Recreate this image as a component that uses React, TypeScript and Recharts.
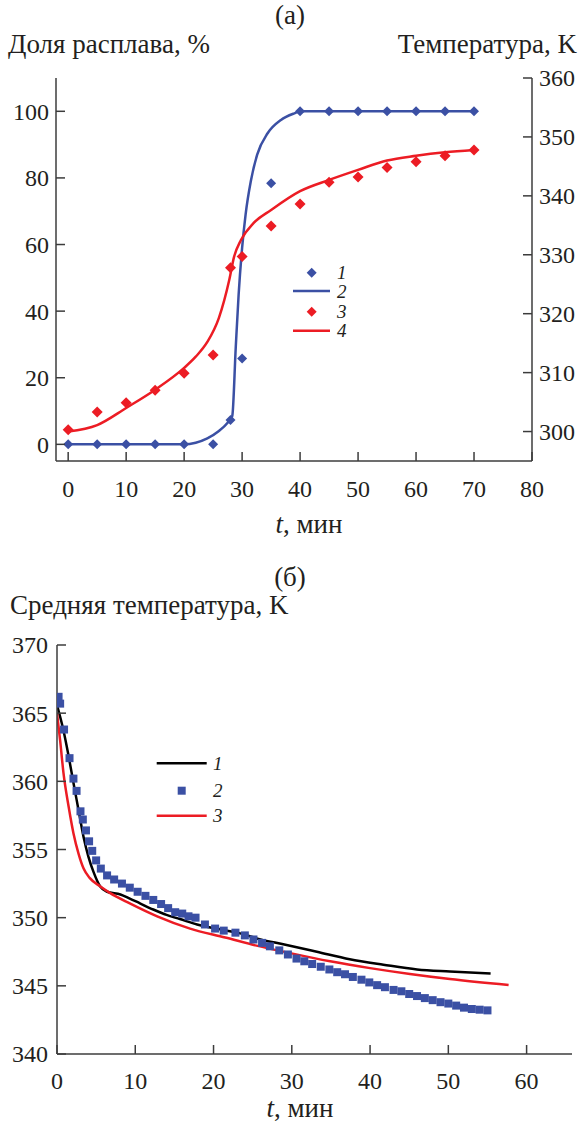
import { ComposedChart, Line, Scatter, XAxis, YAxis, Legend } from 'recharts';

const FONT = "'Times New Roman', 'Liberation Serif', Tinos, 'Noto Serif', 'DejaVu Serif', FreeSerif, serif";
const TEXT = '#231f20';
const AXIS = '#3c3c3c';
const BLUE = '#3b50a4';
const RED = '#ec1c24';

// (а) measured points, t in min
const timeA = [0, 5, 10, 15, 20, 25, 28, 30, 35, 40, 45, 50, 55, 60, 65, 70];
const meltMeasured = [0, 0, 0, 0, 0, 0, 7.3, 25.8, 78.4, 100, 100, 100, 100, 100, 100, 100];
const tempMeasured = [300.3, 303.3, 304.9, 307.0, 309.9, 313.0, 327.8, 329.7, 334.9, 338.6, 342.3, 343.2, 344.8, 345.8, 346.8, 347.8];

// (а) model curves
const meltModelTime = [0, 5, 10, 15, 20, 22, 24, 26, 27.5, 28.3, 28.9, 29.4, 30, 30.6, 31.5, 32.6, 34.4, 36.7, 39, 40, 45, 50, 55, 60, 65, 70];
const meltModel = [0, 0, 0, 0, 0, 0.5, 1.8, 4, 6.5, 8.5, 29, 45, 59, 69, 79, 87, 93.4, 97.4, 99.4, 100, 100, 100, 100, 100, 100, 100];
const tempModelTime = [0, 5, 10, 15, 20, 22, 24, 26, 27.8, 28.6, 29.8, 32, 35, 40, 45, 50, 55, 60, 65, 70];
const tempModel = [300, 301.1, 304.0, 307.1, 310.8, 312.7, 315.2, 319.3, 325.8, 329.6, 332.5, 335.4, 337.6, 340.8, 342.7, 344.4, 346.0, 346.8, 347.4, 347.8];

// (б) curve 1
const calcTime = [0, 0.8, 1.5, 2.1, 2.75, 3.4, 4.0, 4.7, 5.5, 6.4, 8.1, 9.3, 10.6, 12.3, 14.0, 15.7, 17.9, 20.8, 23.4, 26, 28.9, 33.2, 37.4, 41.7, 46, 50.2, 55.4];
const calcTemp = [365.6, 363.8, 361.8, 359.9, 357.9, 355.9, 354.5, 353.3, 352.3, 351.9, 351.7, 351.4, 351.05, 350.6, 350.2, 349.9, 349.5, 349.15, 348.85, 348.4, 348.05, 347.5, 346.95, 346.55, 346.2, 346.05, 345.9];

// (б) points 2
const measTime = [0.2, 0.4, 0.9, 1.6, 2.1, 2.5, 3.0, 3.3, 3.7, 4.1, 4.5, 5.0, 5.6, 6.4, 7.3, 8.3, 9.3, 10.3, 11.3, 12.3, 13.3, 14.2, 15.1, 16.0, 16.8, 17.7, 18.9, 20.2, 21.3, 22.8, 24.0, 25.1, 26.2, 27.2, 28.4, 29.5, 30.6, 31.6, 32.6, 33.7, 34.8, 35.8, 36.8, 37.8, 38.9, 39.9, 40.9, 41.9, 43.0, 44.0, 45.0, 46.0, 47.0, 48.0, 49.0, 50.0, 51.0, 52.0, 53.0, 54.0, 55.0];
const measTemp = [366.2, 365.7, 363.8, 361.7, 360.2, 359.3, 357.8, 357.2, 356.4, 355.6, 354.9, 354.2, 353.6, 353.1, 352.8, 352.5, 352.2, 351.9, 351.6, 351.3, 351.0, 350.7, 350.4, 350.3, 350.1, 350.0, 349.5, 349.2, 349.05, 348.9, 348.7, 348.4, 348.15, 347.9, 347.6, 347.3, 347.0, 346.8, 346.6, 346.4, 346.2, 346.0, 345.85, 345.65, 345.45, 345.25, 345.05, 344.9, 344.7, 344.6, 344.4, 344.25, 344.1, 343.95, 343.8, 343.7, 343.55, 343.4, 343.3, 343.25, 343.2];

// (б) curve 3
const modelTime = [0, 0.4, 0.83, 1.5, 2.1, 2.75, 3.4, 4.2, 5.5, 6.8, 9.3, 12.8, 17, 21.5, 25.5, 29.8, 34.9, 40, 45.1, 50.2, 57.7];
const modelTemp = [365.0, 363.0, 360.6, 358.1, 356.2, 354.7, 353.6, 352.9, 352.3, 351.8, 351.05, 350.1, 349.2, 348.55, 347.95, 347.4, 346.8, 346.3, 345.87, 345.5, 345.06];

const ticksA = [0, 10, 20, 30, 40, 50, 60, 70, 80];
const ticksMelt = [0, 20, 40, 60, 80, 100];
const ticksTemp = [300, 310, 320, 330, 340, 350, 360];
const ticksB = [0, 10, 20, 30, 40, 50, 60];
const ticksAvg = [340, 345, 350, 355, 360, 365, 370];

const zip = (xs: number[], ys: number[]) => xs.map((t, i) => ({ t, v: ys[i] }));

const tickText = { fontFamily: FONT, fontSize: 24 };

const makeTick = (side: 'left' | 'right' | 'bottom', gap: number) => (props: any) => {
  const { x, y, payload } = props;
  const len = 9;
  if (side === 'left') {
    return (
      <g>
        <line x1={x} y1={y} x2={x + len} y2={y} stroke={AXIS} strokeWidth={1.5} />
        <text x={x - gap} y={y} dy="0.35em" textAnchor="end" fill={TEXT} style={tickText}>{payload.value}</text>
      </g>
    );
  }
  if (side === 'right') {
    return (
      <g>
        <line x1={x} y1={y} x2={x - len} y2={y} stroke={AXIS} strokeWidth={1.5} />
        <text x={x + gap} y={y} dy="0.35em" textAnchor="start" fill={TEXT} style={tickText}>{payload.value}</text>
      </g>
    );
  }
  return (
    <g>
      <line x1={x} y1={y} x2={x} y2={y - len} stroke={AXIS} strokeWidth={1.5} />
      <text x={x} y={y + gap} textAnchor="middle" fill={TEXT} style={tickText}>{payload.value}</text>
    </g>
  );
};

const diamond = (r: number, color: string) => (p: any) => (
  <polygon
    points={`${p.cx},${p.cy - r} ${p.cx + r},${p.cy} ${p.cx},${p.cy + r} ${p.cx - r},${p.cy}`}
    fill={color}
  />
);

const square = (p: any) => <rect x={p.cx - 4} y={p.cy - 4} width={8} height={8} fill={BLUE} />;

const legendText = { fontFamily: FONT, fontSize: 19, fontStyle: 'italic' as const };

function LegendA() {
  return (
    <svg width={90} height={90}>
      <polygon points="26.7,7.7 31.7,12.7 26.7,17.7 21.7,12.7" fill={BLUE} />
      <text x={52} y={19} fill={TEXT} style={legendText}>1</text>
      <line x1={8} y1={31} x2={45} y2={31} stroke={BLUE} strokeWidth={2.5} />
      <text x={52} y={38} fill={TEXT} style={legendText}>2</text>
      <polygon points="26.7,46.7 31.7,51.7 26.7,56.7 21.7,51.7" fill={RED} />
      <text x={52} y={58} fill={TEXT} style={legendText}>3</text>
      <line x1={8} y1={70.7} x2={45} y2={70.7} stroke={RED} strokeWidth={2.5} />
      <text x={52} y={77} fill={TEXT} style={legendText}>4</text>
    </svg>
  );
}

function LegendB() {
  return (
    <svg width={90} height={90}>
      <line x1={6.7} y1={13.3} x2={56.7} y2={13.3} stroke="#000" strokeWidth={2.5} />
      <text x={63} y={20} fill={TEXT} style={legendText}>1</text>
      <rect x={27.7} y={36.7} width={8} height={8} fill={BLUE} />
      <text x={63} y={47} fill={TEXT} style={legendText}>2</text>
      <line x1={6.7} y1={65.7} x2={56.7} y2={65.7} stroke={RED} strokeWidth={2.5} />
      <text x={63} y={72} fill={TEXT} style={legendText}>3</text>
    </svg>
  );
}

const axisLine = { stroke: AXIS, strokeWidth: 1.5 };
const titleText = { fontFamily: FONT, fontSize: 27 };

export default function App() {
  return (
    <div style={{ position: 'relative', width: 579, height: 1126, background: '#fff' }}>
      <style>{`body{margin:0}`}</style>

      <div style={{ position: 'absolute', left: 0, top: 0 }}>
        <ComposedChart width={579} height={545} margin={{ top: 78, right: 0, bottom: 0, left: 0 }}>
          <XAxis
            dataKey="t"
            type="number"
            domain={[-2.1, 80]}
            ticks={ticksA}
            interval={0}
            allowDataOverflow
            height={84}
            tickSize={0}
            tickMargin={0}
            tickLine={false}
            axisLine={axisLine}
            tick={makeTick('bottom', 36)}
          />
          <YAxis
            yAxisId="left"
            dataKey="v"
            type="number"
            domain={[-5, 110]}
            ticks={ticksMelt}
            interval={0}
            allowDataOverflow
            width={56}
            tickSize={0}
            tickMargin={0}
            tickLine={false}
            axisLine={axisLine}
            tick={makeTick('left', 7)}
          />
          <YAxis
            yAxisId="right"
            orientation="right"
            dataKey="v"
            type="number"
            domain={[295, 360]}
            ticks={ticksTemp}
            interval={0}
            allowDataOverflow
            width={47}
            tickSize={0}
            tickMargin={0}
            tickLine={false}
            axisLine={axisLine}
            tick={makeTick('right', 7)}
          />
          <Line yAxisId="left" data={zip(meltModelTime, meltModel)} dataKey="v" type="monotone" stroke={BLUE} strokeWidth={2.5} dot={false} isAnimationActive={false} />
          <Line yAxisId="right" data={zip(tempModelTime, tempModel)} dataKey="v" type="monotone" stroke={RED} strokeWidth={2.5} dot={false} isAnimationActive={false} />
          <Scatter yAxisId="left" data={zip(timeA, meltMeasured)} dataKey="v" shape={diamond(5, BLUE)} isAnimationActive={false} />
          <Scatter yAxisId="right" data={zip(timeA, tempMeasured)} dataKey="v" shape={diamond(5.5, RED)} isAnimationActive={false} />
          <Legend
            layout="vertical"
            align="center"
            verticalAlign="middle"
            wrapperStyle={{ left: 285, top: 260, width: 90, height: 90 }}
            content={() => <LegendA />}
          />
        </ComposedChart>
      </div>

      <div style={{ position: 'absolute', left: 0, top: 560 }}>
        <ComposedChart width={579} height={566} margin={{ top: 85, right: 7, bottom: 0, left: 0 }}>
          <XAxis
            dataKey="t"
            type="number"
            domain={[0, 65.8]}
            ticks={ticksB}
            interval={0}
            allowDataOverflow
            height={72}
            tickSize={0}
            tickMargin={0}
            tickLine={false}
            axisLine={axisLine}
            tick={makeTick('bottom', 35)}
          />
          <YAxis
            dataKey="v"
            type="number"
            domain={[340, 370]}
            ticks={ticksAvg}
            interval={0}
            allowDataOverflow
            width={57}
            tickSize={0}
            tickMargin={0}
            tickLine={false}
            axisLine={axisLine}
            tick={makeTick('left', 9)}
          />
          <Line data={zip(calcTime, calcTemp)} dataKey="v" type="monotone" stroke="#000" strokeWidth={2.5} dot={false} isAnimationActive={false} />
          <Scatter data={zip(measTime, measTemp)} dataKey="v" shape={square} isAnimationActive={false} />
          <Line data={zip(modelTime, modelTemp)} dataKey="v" type="monotone" stroke={RED} strokeWidth={2.5} dot={false} isAnimationActive={false} />
          <Legend
            layout="vertical"
            align="center"
            verticalAlign="middle"
            wrapperStyle={{ left: 150, top: 190, width: 90, height: 90 }}
            content={() => <LegendB />}
          />
        </ComposedChart>
      </div>

      <svg width={579} height={1126} style={{ position: 'absolute', left: 0, top: 0, pointerEvents: 'none' }}>
        <text x={290} y={24} textAnchor="middle" fill={TEXT} style={titleText}>(а)</text>
        <text x={8} y={53} fill={TEXT} style={titleText}>Доля расплава, %</text>
        <text x={577} y={53} textAnchor="end" fill={TEXT} style={titleText}>Температура, K</text>
        <text x={309} y={533} textAnchor="middle" fill={TEXT} style={titleText}>
          <tspan style={{ fontStyle: 'italic' }}>t</tspan>, мин
        </text>
        <text x={290} y={586} textAnchor="middle" fill={TEXT} style={titleText}>(б)</text>
        <text x={10} y={614} fill={TEXT} style={titleText}>Средняя температура, K</text>
        <text x={300} y={1117} textAnchor="middle" fill={TEXT} style={titleText}>
          <tspan style={{ fontStyle: 'italic' }}>t</tspan>, мин
        </text>
      </svg>
    </div>
  );
}
